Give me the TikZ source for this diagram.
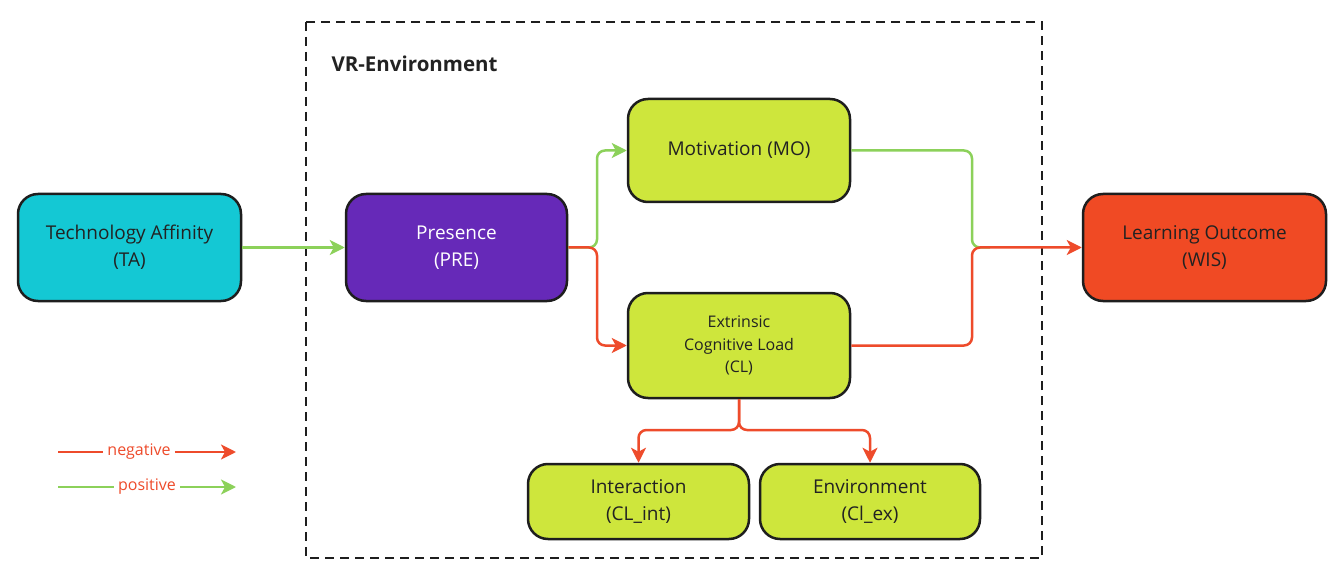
\documentclass[tikz,border=0pt]{standalone}
\usepackage{fontspec}
\setmainfont{Open Sans}
\usetikzlibrary{arrows.meta}
\definecolor{tacyan}{HTML}{14C8D4}
\definecolor{prepurple}{HTML}{6629B8}
\definecolor{limebox}{HTML}{CEE63C}
\definecolor{wisred}{HTML}{F04A24}
\definecolor{negred}{HTML}{EE4B2B}
\definecolor{posgreen}{HTML}{8CD15A}
\definecolor{boxline}{HTML}{1E1E1E}
\definecolor{txt}{HTML}{222222}
\begin{document}
\begin{tikzpicture}[x=1pt,y=-1pt,
  box/.style={draw=boxline, line width=2.5pt, rounded corners=20pt, align=center,
    font=\fontsize{19}{27}\selectfont, text=txt, inner sep=0pt},
  smallbox/.style={box, font=\fontsize{16}{22.5}\selectfont},
  conn/.style={line width=2.5pt, rounded corners=8pt},
  tip/.style={-{Stealth[length=15pt,width=15pt,inset=4pt]}},
  posl/.style={conn, draw=posgreen},
  negl/.style={conn, draw=negred},
  legtext/.style={font=\fontsize{16}{18}\selectfont, text=negred, inner sep=4pt}
]
\useasboundingbox (0,0) rectangle (1332,569);
\fill[white] (0,0) rectangle (1332,569);

% VR environment frame
\draw[boxline, line width=2.5pt, dash pattern=on 9pt off 6pt] (306,22) rectangle (1042,558);
\node[anchor=west, font=\fontsize{20.5}{24}\selectfont\bfseries, text=txt] (vr) at (328,64) {VR-Environment};

% nodes
\node[box, fill=tacyan, minimum width=223pt, minimum height=107pt] (ta) at (129.5,247.5) {Technology Affinity\\(TA)};
\node[box, fill=prepurple, text=white, minimum width=221pt, minimum height=107pt] (pre) at (456.5,247.5) {Presence\\(PRE)};
\node[box, fill=limebox, minimum width=222pt, minimum height=103pt] (mo) at (739,150.5) {Motivation (MO)};
\node[smallbox, fill=limebox, minimum width=222pt, minimum height=105pt] (cl) at (739,345.5) {Extrinsic\\Cognitive Load\\(CL)};
\node[box, fill=limebox, minimum width=221pt, minimum height=75pt] (int) at (638.5,501.5) {Interaction\\(CL\_int)};
\node[box, fill=limebox, minimum width=220pt, minimum height=75pt] (env) at (870,501.5) {Environment\\(Cl\_ex)};
\node[box, fill=wisred, minimum width=243pt, minimum height=107pt] (wis) at (1204.5,247.5) {Learning Outcome\\(WIS)};

% connectors
\draw[posl, tip] (ta.east) -- (pre.west);
\coordinate (s1) at (597,247.5);
\draw[posl, tip] (pre.east) -- (s1) |- (mo.west);
\draw[negl, tip] (pre.east) -- (s1) |- (cl.west);
\coordinate (m) at (972,247.5);
\coordinate (m2) at (990,247.5);
\draw[posl] (mo.east) -| (m) -- (m2);
\draw[negl, tip] (cl.east) -| (m) -- (wis.west);
\coordinate (c1) at (739,430);
\draw[negl, tip] (cl.south) -- (c1) -| (int.north);
\draw[negl, tip] (cl.south) -- (c1) -| (env.north);

% legend
\node[legtext] (lneg) at (139,452) {negative};
\coordinate (ln0) at (58,452);
\coordinate (ln1) at (236,452);
\draw[negl] (ln0) -- (lneg.west);
\draw[negl, tip] (lneg.east) -- (ln1);
\node[legtext] (lpos) at (147,487) {positive};
\coordinate (lp0) at (58,487);
\coordinate (lp1) at (236,487);
\draw[posl] (lp0) -- (lpos.west);
\draw[posl, tip] (lpos.east) -- (lp1);
\end{tikzpicture}
\end{document}
